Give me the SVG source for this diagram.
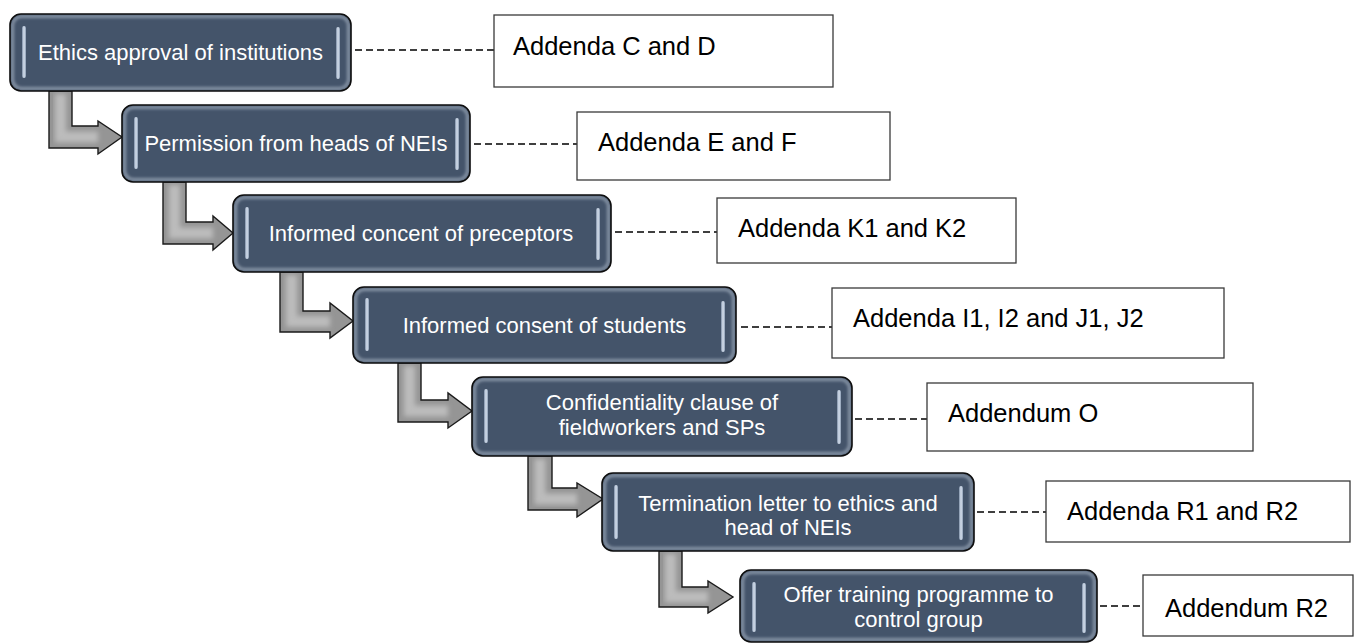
<svg xmlns="http://www.w3.org/2000/svg" width="1355" height="643" viewBox="0 0 1355 643">
  <defs>
    <style>
      .node-fill { fill: #44546A; }
      .node-glow { fill: none; stroke: #a3afbf; stroke-width: 3; opacity: 0.75; filter: url(#soft); }
      .node-edge { fill: none; stroke: #0d0d0d; stroke-width: 1.6; }
      .bar { fill: url(#barGrad); }
      .node-text { font-family: "Liberation Sans", Arial, sans-serif; font-size: 22px; fill: #ffffff; text-anchor: middle; }
      .ref-box { fill: #ffffff; stroke: #3a3a3a; stroke-width: 1.3; }
      .ref-text { font-family: "Liberation Sans", Arial, sans-serif; font-size: 25.5px; fill: #000000; }
      .dash { stroke: #000000; stroke-width: 1.6; stroke-dasharray: 7 4; fill: none; }
      .arrow-body { fill: #959595; }
      .arrow-shine { fill: none; stroke: #bcbcbc; stroke-width: 11; filter: url(#soft2); }
      .arrow-edge { fill: none; stroke: #1a1a1a; stroke-width: 1.4; stroke-linejoin: miter; }
    </style>
    <filter id="soft" x="-20%" y="-20%" width="140%" height="140%">
      <feGaussianBlur stdDeviation="1.6"/>
    </filter>
    <filter id="soft2" x="-20%" y="-20%" width="140%" height="140%">
      <feGaussianBlur stdDeviation="2.5"/>
    </filter>
    <linearGradient id="barGrad" x1="0" y1="0" x2="1" y2="0">
      <stop offset="0" stop-color="#7d8ea6"/>
      <stop offset="0.5" stop-color="#d9e3f0"/>
      <stop offset="1" stop-color="#8a9bb2"/>
    </linearGradient>
  </defs>

  <!-- elbow arrows between the steps -->
  <g id="connectors">
    <g id="arrow-1">
      <path class="arrow-body" d="M49,91 L72,91 L72,126 L98,126 L98,121 L122,137 L98,154 L98,148 L49,148 Z"/>
      <path class="arrow-shine" d="M60.5,94 L60.5,137 L98,137"/>
      <path class="arrow-edge" d="M49,91 L72,91 L72,126 L98,126 L98,121 L122,137 L98,154 L98,148 L49,148 Z"/>
    </g>
    <g id="arrow-2">
      <path class="arrow-body" d="M163,182 L186,182 L186,222 L213,222 L213,216 L233,233 L213,250 L213,244 L163,244 Z"/>
      <path class="arrow-shine" d="M174.5,185 L174.5,233 L213,233"/>
      <path class="arrow-edge" d="M163,182 L186,182 L186,222 L213,222 L213,216 L233,233 L213,250 L213,244 L163,244 Z"/>
    </g>
    <g id="arrow-3">
      <path class="arrow-body" d="M280,272 L303,272 L303,311 L330,311 L330,303 L353,321 L330,338 L330,332 L280,332 Z"/>
      <path class="arrow-shine" d="M291.5,275 L291.5,321.5 L330,321.5"/>
      <path class="arrow-edge" d="M280,272 L303,272 L303,311 L330,311 L330,303 L353,321 L330,338 L330,332 L280,332 Z"/>
    </g>
    <g id="arrow-4">
      <path class="arrow-body" d="M398,363 L421,363 L421,400 L448,400 L448,393 L472,411 L448,428 L448,422 L398,422 Z"/>
      <path class="arrow-shine" d="M409.5,366 L409.5,411 L448,411"/>
      <path class="arrow-edge" d="M398,363 L421,363 L421,400 L448,400 L448,393 L472,411 L448,428 L448,422 L398,422 Z"/>
    </g>
    <g id="arrow-5">
      <path class="arrow-body" d="M528,456 L552,456 L552,488 L577,488 L577,483 L603,499 L577,517 L577,510 L528,510 Z"/>
      <path class="arrow-shine" d="M540,459 L540,499 L577,499"/>
      <path class="arrow-edge" d="M528,456 L552,456 L552,488 L577,488 L577,483 L603,499 L577,517 L577,510 L528,510 Z"/>
    </g>
    <g id="arrow-6">
      <path class="arrow-body" d="M659,551 L682,551 L682,587 L708,587 L708,581 L733,597 L708,613 L708,607 L659,607 Z"/>
      <path class="arrow-shine" d="M670.5,554 L670.5,597 L708,597"/>
      <path class="arrow-edge" d="M659,551 L682,551 L682,587 L708,587 L708,581 L733,597 L708,613 L708,607 L659,607 Z"/>
    </g>

    <!-- dashed leaders to the addenda boxes -->
    <line class="dash" x1="355" y1="50" x2="494" y2="50"/>
    <line class="dash" x1="474" y1="144" x2="577" y2="144"/>
    <line class="dash" x1="615" y1="232" x2="717" y2="232"/>
    <line class="dash" x1="741" y1="327" x2="832" y2="327"/>
    <line class="dash" x1="855" y1="419" x2="927" y2="419"/>
    <line class="dash" x1="977" y1="512" x2="1046" y2="512"/>
    <line class="dash" x1="1100" y1="606" x2="1143" y2="606"/>
  </g>

  <!-- process steps -->
  <g id="step-1">
    <rect class="node-fill" x="10" y="14" width="341" height="77" rx="11"/>
    <rect class="node-glow" x="12.5" y="16.5" width="336" height="72" rx="9"/>
    <rect class="bar" x="22" y="26" width="4" height="52" rx="2"/>
    <rect class="bar" x="336" y="27" width="4" height="52" rx="2"/>
    <rect class="node-edge" x="10" y="14" width="341" height="77" rx="11"/>
    <text class="node-text" x="180.5" y="60">Ethics approval of institutions</text>
  </g>

  <g id="step-2">
    <rect class="node-fill" x="122" y="105" width="348" height="77" rx="11"/>
    <rect class="node-glow" x="124.5" y="107.5" width="343" height="72" rx="9"/>
    <rect class="bar" x="134" y="117" width="4" height="52" rx="2"/>
    <rect class="bar" x="455" y="118" width="4" height="52" rx="2"/>
    <rect class="node-edge" x="122" y="105" width="348" height="77" rx="11"/>
    <text class="node-text" x="296" y="151">Permission from heads of NEIs</text>
  </g>

  <g id="step-3">
    <rect class="node-fill" x="233" y="195" width="378" height="77" rx="11"/>
    <rect class="node-glow" x="235.5" y="197.5" width="373" height="72" rx="9"/>
    <rect class="bar" x="245" y="207" width="4" height="52" rx="2"/>
    <rect class="bar" x="596" y="208" width="4" height="52" rx="2"/>
    <rect class="node-edge" x="233" y="195" width="378" height="77" rx="11"/>
    <text class="node-text" x="421" y="241">Informed concent of preceptors</text>
  </g>

  <g id="step-4">
    <rect class="node-fill" x="353" y="287" width="383" height="76" rx="11"/>
    <rect class="node-glow" x="355.5" y="289.5" width="378" height="71" rx="9"/>
    <rect class="bar" x="365" y="298" width="4" height="53" rx="2"/>
    <rect class="bar" x="721" y="301" width="4" height="51" rx="2"/>
    <rect class="node-edge" x="353" y="287" width="383" height="76" rx="11"/>
    <text class="node-text" x="544.5" y="333">Informed consent of students</text>
  </g>

  <g id="step-5">
    <rect class="node-fill" x="472" y="377" width="380" height="79" rx="11"/>
    <rect class="node-glow" x="474.5" y="379.5" width="375" height="74" rx="9"/>
    <rect class="bar" x="484" y="389" width="4" height="54" rx="2"/>
    <rect class="bar" x="837" y="390" width="4" height="54" rx="2"/>
    <rect class="node-edge" x="472" y="377" width="380" height="79" rx="11"/>
    <text class="node-text" x="662" y="410">Confidentiality clause of</text>
    <text class="node-text" x="662" y="435">fieldworkers and SPs</text>
  </g>

  <g id="step-6">
    <rect class="node-fill" x="602" y="473" width="372" height="78" rx="11"/>
    <rect class="node-glow" x="604.5" y="475.5" width="367" height="73" rx="9"/>
    <rect class="bar" x="614" y="485" width="4" height="54" rx="2"/>
    <rect class="bar" x="959" y="486" width="4" height="54" rx="2"/>
    <rect class="node-edge" x="602" y="473" width="372" height="78" rx="11"/>
    <text class="node-text" x="788" y="511">Termination letter to ethics and</text>
    <text class="node-text" x="788" y="535">head of NEIs</text>
  </g>

  <g id="step-7">
    <rect class="node-fill" x="740" y="570" width="357" height="72" rx="11"/>
    <rect class="node-glow" x="742.5" y="572.5" width="352" height="67" rx="9"/>
    <rect class="bar" x="752" y="582" width="4" height="50" rx="2"/>
    <rect class="bar" x="1082" y="583" width="4" height="50" rx="2"/>
    <rect class="node-edge" x="740" y="570" width="357" height="72" rx="11"/>
    <text class="node-text" x="918.5" y="602">Offer training programme to</text>
    <text class="node-text" x="918.5" y="627">control group</text>
  </g>

  <!-- addenda references -->
  <g id="ref-1">
    <rect class="ref-box" x="494" y="15" width="339" height="72"/>
    <text class="ref-text" x="513" y="55">Addenda C and D</text>
  </g>
  <g id="ref-2">
    <rect class="ref-box" x="577" y="112" width="313" height="68"/>
    <text class="ref-text" x="598" y="151">Addenda E and F</text>
  </g>
  <g id="ref-3">
    <rect class="ref-box" x="717" y="198" width="299" height="65"/>
    <text class="ref-text" x="738" y="237">Addenda K1 and K2</text>
  </g>
  <g id="ref-4">
    <rect class="ref-box" x="832" y="288" width="392" height="70"/>
    <text class="ref-text" x="853" y="327">Addenda I1, I2 and J1, J2</text>
  </g>
  <g id="ref-5">
    <rect class="ref-box" x="927" y="383" width="326" height="68"/>
    <text class="ref-text" x="948" y="422">Addendum O</text>
  </g>
  <g id="ref-6">
    <rect class="ref-box" x="1046" y="481" width="304" height="61"/>
    <text class="ref-text" x="1067" y="520">Addenda R1 and R2</text>
  </g>
  <g id="ref-7">
    <rect class="ref-box" x="1143" y="575" width="210" height="61"/>
    <text class="ref-text" x="1165" y="617">Addendum R2</text>
  </g>
</svg>
